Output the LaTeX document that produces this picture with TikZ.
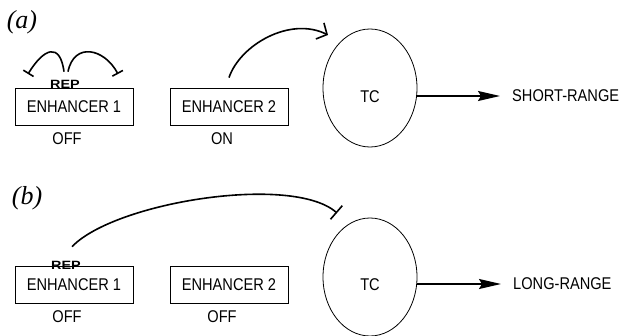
\documentclass[tikz,border=0pt]{standalone}
\usepackage{fontspec}
\setmainfont{Liberation Serif}
\setsansfont{Liberation Sans}[FakeStretch=0.86]
\newfontfamily\repfont{Liberation Sans}[FakeStretch=1.2]
\usetikzlibrary{arrows.meta,shapes.geometric}

\begin{document}
\begin{tikzpicture}[
  x=1pt,
  y=-1pt,
  enh/.style={draw=black,line width=0.8pt,minimum width=118pt,minimum height=37pt,inner sep=0pt,font=\sffamily\fontsize{17}{17}\selectfont},
  tc/.style={ellipse,draw=black,line width=0.8pt,minimum width=94pt,minimum height=118pt,inner sep=0pt},
  lab/.style={font=\sffamily\fontsize{17}{17}\selectfont,inner sep=0pt},
  rep/.style={font=\repfont\bfseries\fontsize{12}{12}\selectfont,inner sep=0pt},
  panel/.style={font=\itshape\fontsize{26}{26}\selectfont,inner sep=0pt},
  inh/.style={line width=1.6pt,-{Bar[width=12pt]}},
  longinh/.style={line width=1.6pt,-{Bar[width=18pt]}},
  act/.style={line width=1.6pt,-{Straight Barb[length=8pt,width=18pt]}},
  outarr/.style={line width=1.4pt,-{Stealth[length=22pt,width=10pt,inset=3pt]}}
]
\useasboundingbox (0,0) rectangle (621,336);

\node[panel] (pa) at (22,22) {(a)};
\node[enh] (e1a) at (74,106.5) {ENHANCER 1};
\node[enh] (e2a) at (229,106.5) {ENHANCER 2};
\node[rep] (repa) at (65,84) {REP};
\node[lab] (offa) at (67,139) {OFF};
\node[lab] (ona) at (222,139) {ON};
\node[tc] (tca) at (370,88) {};
\node[lab] (tcta) at (370,97) {TC};
\node[lab,anchor=west] (shorta) at (512,96) {SHORT-RANGE};

\coordinate (la) at (28,74);
\coordinate (ra) at (118,74);
\coordinate (hita) at (328,35);
\draw[inh] ([xshift=-1pt,yshift=8pt]repa.north) .. controls (60,42) and (44,48) .. (la);
\draw[inh] ([xshift=3pt,yshift=8pt]repa.north) .. controls (74,42) and (104,48) .. (ra);
\draw[act] ([yshift=10pt]e2a.north) .. controls (240,45) and (290,16) .. (hita);
\draw[outarr] (tca.east |- shorta.west) -- ([xshift=-12pt]shorta.west);

\node[panel] (pb) at (27,198) {(b)};
\node[enh] (e1b) at (74,285) {ENHANCER 1};
\node[enh] (e2b) at (229,285) {ENHANCER 2};
\node[rep] (repb) at (66,265) {REP};
\node[lab] (offb) at (67,317) {OFF};
\node[lab] (offc) at (222,317) {OFF};
\node[tc] (tcb) at (370,277) {};
\node[lab] (tctb) at (370,285) {TC};
\node[lab,anchor=west] (longb) at (513,284) {LONG-RANGE};

\coordinate (hitb) at (337,213);
\draw[longinh] ([xshift=6pt,yshift=14pt]repb.north) .. controls (115,202) and (292,174) .. (hitb);
\draw[outarr] (tcb.east |- longb.west) -- ([xshift=-12pt]longb.west);
\end{tikzpicture}
\end{document}
